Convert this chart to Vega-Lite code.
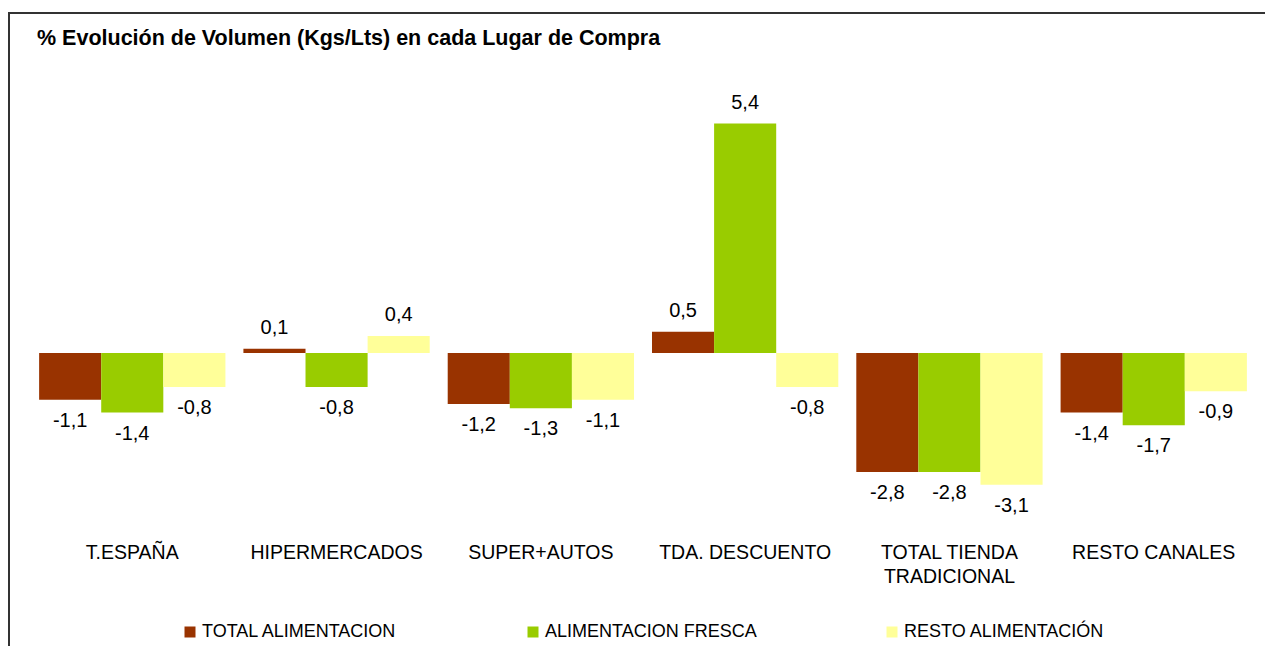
{
  "$schema": "https://vega.github.io/schema/vega-lite/v6.json",
  "width": 1270,
  "height": 647,
  "autosize": {"type": "none"},
  "padding": {"left": 9, "top": 13, "right": -14, "bottom": -14},
  "background": "white",
  "title": {
    "text": "% Evolución de Volumen (Kgs/Lts) en cada Lugar de Compra",
    "anchor": "start",
    "frame": "group",
    "orient": "top",
    "offset": 0,
    "dx": 28,
    "dy": 47,
    "baseline": "middle",
    "font": "Liberation Sans",
    "fontSize": 21.5,
    "fontWeight": "bold",
    "color": "#000000"
  },
  "data": {
    "values": [
      {"canal": "T.ESPAÑA", "serie": "TOTAL ALIMENTACION", "valor": -1.1},
      {"canal": "T.ESPAÑA", "serie": "ALIMENTACION FRESCA", "valor": -1.4},
      {"canal": "T.ESPAÑA", "serie": "RESTO ALIMENTACIÓN", "valor": -0.8},
      {"canal": "HIPERMERCADOS", "serie": "TOTAL ALIMENTACION", "valor": 0.1},
      {"canal": "HIPERMERCADOS", "serie": "ALIMENTACION FRESCA", "valor": -0.8},
      {"canal": "HIPERMERCADOS", "serie": "RESTO ALIMENTACIÓN", "valor": 0.4},
      {"canal": "SUPER+AUTOS", "serie": "TOTAL ALIMENTACION", "valor": -1.2},
      {"canal": "SUPER+AUTOS", "serie": "ALIMENTACION FRESCA", "valor": -1.3},
      {"canal": "SUPER+AUTOS", "serie": "RESTO ALIMENTACIÓN", "valor": -1.1},
      {"canal": "TDA. DESCUENTO", "serie": "TOTAL ALIMENTACION", "valor": 0.5},
      {"canal": "TDA. DESCUENTO", "serie": "ALIMENTACION FRESCA", "valor": 5.4},
      {"canal": "TDA. DESCUENTO", "serie": "RESTO ALIMENTACIÓN", "valor": -0.8},
      {"canal": "TOTAL TIENDA TRADICIONAL", "serie": "TOTAL ALIMENTACION", "valor": -2.8},
      {"canal": "TOTAL TIENDA TRADICIONAL", "serie": "ALIMENTACION FRESCA", "valor": -2.8},
      {"canal": "TOTAL TIENDA TRADICIONAL", "serie": "RESTO ALIMENTACIÓN", "valor": -3.1},
      {"canal": "RESTO CANALES", "serie": "TOTAL ALIMENTACION", "valor": -1.4},
      {"canal": "RESTO CANALES", "serie": "ALIMENTACION FRESCA", "valor": -1.7},
      {"canal": "RESTO CANALES", "serie": "RESTO ALIMENTACIÓN", "valor": -0.9}
    ]
  },
  "encoding": {
    "x": {
      "field": "canal",
      "type": "nominal",
      "sort": ["T.ESPAÑA", "HIPERMERCADOS", "SUPER+AUTOS", "TDA. DESCUENTO", "TOTAL TIENDA TRADICIONAL", "RESTO CANALES"],
      "scale": {"paddingInner": 0.0881, "paddingOuter": 0.1523, "align": 0.484},
      "axis": {
        "orient": "bottom",
        "offset": -117,
        "domain": false,
        "ticks": false,
        "tickSize": 0,
        "grid": false,
        "labelPadding": 0,
        "labelAngle": 0,
        "labelFont": "Liberation Sans",
        "labelFontSize": 19.5,
        "labelColor": "#000000",
        "labelLineHeight": 24,
        "labelLimit": 0,
        "labelExpr": "datum.value == 'TOTAL TIENDA TRADICIONAL' ? ['TOTAL TIENDA', 'TRADICIONAL'] : datum.label",
        "title": null
      }
    },
    "xOffset": {
      "field": "serie",
      "type": "nominal",
      "sort": ["TOTAL ALIMENTACION", "ALIMENTACION FRESCA", "RESTO ALIMENTACIÓN"],
      "scale": {"paddingInner": 0, "paddingOuter": 0}
    },
    "y": {
      "field": "valor",
      "type": "quantitative",
      "scale": {"domain": [-7.2235, 8.0], "nice": false, "zero": false},
      "axis": null
    }
  },
  "layer": [
    {
      "mark": {"type": "bar"},
      "encoding": {
        "y2": {"datum": 0},
        "color": {
          "field": "serie",
          "type": "nominal",
          "sort": ["TOTAL ALIMENTACION", "ALIMENTACION FRESCA", "RESTO ALIMENTACIÓN"],
          "scale": {
            "domain": ["TOTAL ALIMENTACION", "ALIMENTACION FRESCA", "RESTO ALIMENTACIÓN"],
            "range": ["#993300", "#99CC00", "#FFFF99"]
          },
          "legend": {
            "orient": "none",
            "legendX": 172,
            "legendY": 610,
            "direction": "horizontal",
            "columns": 3,
            "title": null,
            "symbolType": "square",
            "symbolSize": 121,
            "symbolStrokeWidth": 0,
            "labelFont": "Liberation Sans",
            "labelFontSize": 18,
            "labelColor": "#000000",
            "labelOffset": 3,
            "labelLimit": 0,
            "columnPadding": 126
          }
        }
      }
    },
    {
      "transform": [{"filter": "datum.valor >= 0"}],
      "mark": {"type": "text", "dy": -21, "baseline": "middle", "align": "center", "font": "Liberation Sans", "fontSize": 20, "color": "#000000"},
      "encoding": {"text": {"field": "valor", "type": "quantitative", "format": ".1f"}}
    },
    {
      "transform": [{"filter": "datum.valor < 0"}],
      "mark": {"type": "text", "dy": 21, "baseline": "middle", "align": "center", "font": "Liberation Sans", "fontSize": 20, "color": "#000000"},
      "encoding": {"text": {"field": "valor", "type": "quantitative", "format": ".1f"}}
    }
  ],
  "config": {
    "locale": {"number": {"decimal": ",", "thousands": ".", "grouping": [3], "currency": ["", " €"], "minus": "-"}},
    "view": {"stroke": "#333333", "strokeWidth": 2}
  }
}
